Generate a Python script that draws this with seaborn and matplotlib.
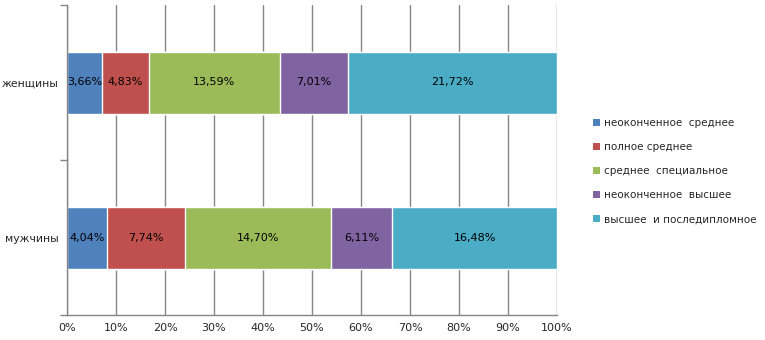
import matplotlib
matplotlib.use("Agg")
import matplotlib.pyplot as plt
import seaborn as sns
import pandas as pd
import numpy as np
from matplotlib.patches import Patch

groups = ["женщины", "мужчины"]
series = ["неоконченное  среднее", "полное среднее", "среднее  специальное",
          "неоконченное  высшее", "высшее  и последипломное"]
women = [3.66, 4.83, 13.59, 7.01, 21.72]
men = [4.04, 7.74, 14.70, 6.11, 16.48]
colors = ["#4F81BD", "#C0504D", "#9BBB59", "#8064A2", "#4BACC6"]
xticks = [0, 10, 20, 30, 40, 50, 60, 70, 80, 90, 100]

sns.set_theme(style="white")
plt.rcParams['font.family'] = ['DejaVu Sans']

vals = np.array([women, men])
shares = vals / vals.sum(axis=1, keepdims=True) * 100
cum = np.cumsum(shares, axis=1)

fig = plt.figure(figsize=(7.65, 3.40), dpi=100)
ax = fig.add_axes([67 / 765, 1 - 315 / 340, (557 - 67) / 765, 310 / 340])

for j in range(len(series) - 1, -1, -1):
    df = pd.DataFrame({"group": groups, "value": cum[:, j]})
    sns.barplot(data=df, x="value", y="group", color=colors[j], saturation=1,
                width=0.4, orient="h", ax=ax, order=groups)

for i in range(len(groups)):
    for j in range(len(series)):
        start = cum[i, j] - shares[i, j]
        ax.text(start + shares[i, j] / 2, i, f"{vals[i, j]:.2f}%".replace(".", ","),
                ha="center", va="center", fontsize=8, color="black")

ax.set_xlim(0, 100)
ax.set_ylim(1.5, -0.5)
ax.set_xticks(xticks)
ax.set_xticklabels([f"{t}%" for t in xticks], fontsize=8)
ax.set_xlabel("")
ax.set_ylabel("")
ax.set_yticks([0, 1])
ax.set_yticklabels(groups, fontsize=7.8)
ax.set_yticks([-0.5, 0.5, 1.5], minor=True)
ax.tick_params(axis="y", which="major", length=0, pad=6)
ax.tick_params(axis="y", which="minor", length=5, color="#868686", width=1, left=True)
ax.tick_params(axis="x", length=0, pad=6)
ax.xaxis.grid(True, color="#868686", linewidth=1)
ax.set_axisbelow(True)
for s in ["top", "right"]:
    ax.spines[s].set_visible(False)
for s in ["left", "bottom"]:
    ax.spines[s].set_color("#868686")
    ax.spines[s].set_linewidth(1)

handles = [Patch(facecolor=c, edgecolor="none") for c in colors]
fig.legend(handles, series, loc="upper left", bbox_to_anchor=(593 / 765, 1 - 118 / 340),
           frameon=False, fontsize=7.5, handlelength=0.7, handleheight=0.7,
           handletextpad=0.4, labelspacing=1.35, borderaxespad=0, borderpad=0)

fig.savefig("out.png", dpi=100)
